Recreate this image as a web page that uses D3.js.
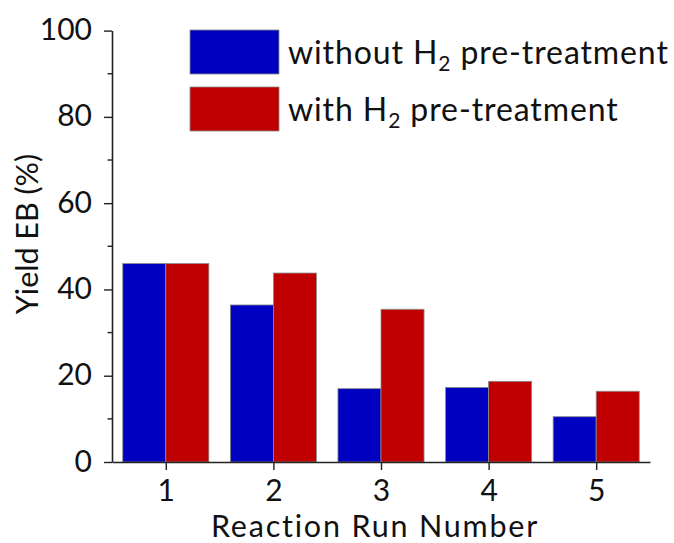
<!DOCTYPE html>
<html>
<head>
<meta charset="utf-8">
<script src="https://cdn.jsdelivr.net/npm/d3@7/dist/d3.min.js"></script>
<style>
  html, body { margin: 0; padding: 0; background: #fff; }
  svg { display: block; }
  text { font-family: Lato, "Open Sans", sans-serif; fill: #111; }
</style>
</head>
<body>
<svg id="chart" width="674" height="543"></svg>
<script>
const categories = [1, 2, 3, 4, 5];
const withoutH2 = [46.0, 36.4, 17.0, 17.3, 10.5];
const withH2 = [46.0, 43.8, 35.4, 18.7, 16.4];
const seriesNames = ["without H", "with H"];
const yTicks = [0, 20, 40, 60, 80, 100];
const yMinorTicks = [10, 30, 50, 70, 90];

const svg = d3.select("#chart");
const x = d3.scaleLinear().domain([0.5, 5.5]).range([112, 650]);
const y = d3.scaleLinear().domain([0, 100]).range([462, 30.6]);
const barW = 0.4;
const colors = ["#0000C0", "#C00000"];
const axisColor = "#222";
const fsTick = 30;
const fsTitle = 30.5;
const fsLegend = 32;

// bars
const series = [withoutH2, withH2];
series.forEach((vals, si) => {
  svg.append("g").selectAll("rect").data(categories).join("rect")
    .attr("x", (d) => x(si === 0 ? d - barW : d))
    .attr("width", x(barW) - x(0))
    .attr("y", (d, i) => y(vals[i]))
    .attr("height", (d, i) => y(0) - y(vals[i]))
    .attr("fill", colors[si])
    .attr("stroke", "#8a8a8a")
    .attr("stroke-width", 0.8);
});

// y axis
const yAxis = d3.axisLeft(y).tickValues(yTicks).tickSize(8).tickSizeOuter(0).tickPadding(12);
const gy = svg.append("g").attr("transform", "translate(112,0)").call(yAxis);
gy.select(".domain").attr("stroke", axisColor).attr("stroke-width", 1.6);
gy.selectAll(".tick line").attr("stroke", axisColor).attr("stroke-width", 1.4);
gy.selectAll(".tick text").attr("font-size", fsTick).attr("dy", "0.3em")
  .attr("font-family", 'Lato, "Open Sans", sans-serif').attr("fill", "#111");
svg.append("g").selectAll("line").data(yMinorTicks).join("line")
  .attr("x1", 107.5).attr("x2", 112)
  .attr("y1", (d) => y(d)).attr("y2", (d) => y(d))
  .attr("stroke", axisColor).attr("stroke-width", 1.4);

// x axis
const xAxis = d3.axisBottom(x).tickValues(categories).tickFormat(d3.format("d"))
  .tickSize(8).tickSizeOuter(0).tickPadding(0);
const gx = svg.append("g").attr("transform", "translate(0,462)").call(xAxis);
gx.select(".domain").attr("stroke", axisColor).attr("stroke-width", 1.6);
gx.selectAll(".tick line").attr("stroke", axisColor).attr("stroke-width", 1.4);
gx.selectAll(".tick text").attr("font-size", fsTick).attr("dy", null).attr("y", 38.5)
  .attr("font-family", 'Lato, "Open Sans", sans-serif').attr("fill", "#111");

// axis titles
svg.append("text").attr("x", 375).attr("y", 536.5).attr("text-anchor", "middle")
  .attr("font-size", fsTitle).attr("letter-spacing", 1.8).text("Reaction Run Number");
svg.append("text").attr("transform", "translate(38,234) rotate(-90)")
  .attr("text-anchor", "middle").attr("font-size", fsTitle).text("Yield EB (%)");

// legend
const legendRows = [
  { y: 30, name: seriesNames[0], color: colors[0] },
  { y: 87, name: seriesNames[1], color: colors[1] }
];
const lg = svg.append("g");
legendRows.forEach((r) => {
  lg.append("rect").attr("x", 190).attr("y", r.y).attr("width", 89).attr("height", 44)
    .attr("fill", r.color).attr("stroke", "#8a8a8a").attr("stroke-width", 0.8);
  const t = lg.append("text").attr("x", 288).attr("y", r.y + 34).attr("font-size", fsLegend)
    .attr("letter-spacing", 0.9);
  t.append("tspan").text(r.name);
  t.append("tspan").attr("font-size", 21).attr("dy", 7).text("2");
  t.append("tspan").attr("dy", -7).text(" pre-treatment");
});
</script>
</body>
</html>
